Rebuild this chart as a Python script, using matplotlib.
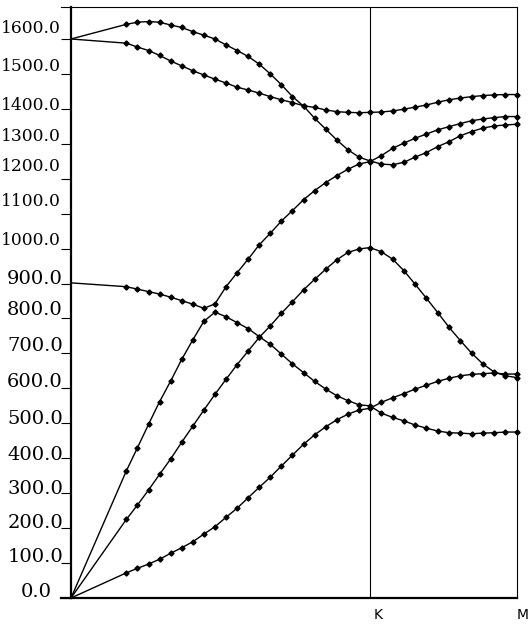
import numpy as np
import matplotlib
matplotlib.use("Agg")
import matplotlib.pyplot as plt
from matplotlib import transforms

# ---- k-path sampling (sample indices along each segment) ----
gk_steps = [0, 5, 6, 7, 8, 9, 10, 11, 12, 13, 14, 15, 16, 17, 18, 19, 20,
            21, 22, 23, 24, 25, 26, 27]
gk_div = 27          # samples per unit length on Gamma-K
km_steps = [1, 2, 3, 4, 5, 6, 7, 8, 9, 10, 11, 12, 13]
km_div = 26.5        # samples per unit length on K-M
K_pos, M_pos = 1.0, 1.4916

# ---- branch frequencies (cm^-1): Gamma..K, then K..M ----
A_gk = [1600, 1642, 1648, 1650, 1648, 1640, 1633, 1621, 1611, 1600, 1583, 1567,
        1550, 1528, 1500, 1469, 1435, 1408, 1373, 1342, 1311, 1283, 1262, 1251]
A_km = [1242, 1240, 1247, 1262, 1275, 1292, 1306, 1323, 1335, 1345, 1351, 1354, 1356]

B_gk = [1600, 1588, 1577, 1567, 1553, 1537, 1523, 1509, 1497, 1485, 1474, 1462,
        1454, 1445, 1435, 1426, 1418, 1409, 1404, 1397, 1392, 1390, 1389, 1390]
B_km = [1391, 1394, 1399, 1405, 1411, 1419, 1426, 1431, 1435, 1438, 1440, 1441, 1441]

C_gk = [902, 891, 884, 877, 870, 861, 851, 841, 829, 842, 891, 931,
        970, 1011, 1044, 1079, 1109, 1140, 1166, 1189, 1209, 1227, 1242, 1249]
C_km = [1266, 1287, 1302, 1316, 1328, 1340, 1349, 1358, 1366, 1371, 1375, 1378, 1378]

D_gk = [0, 364, 430, 497, 562, 621, 683, 739, 792, 818, 805, 788,
        771, 748, 726, 698, 670, 645, 620, 598, 579, 565, 553, 550]
D_km = [529, 517, 507, 495, 486, 478, 473, 472, 470, 472, 473, 475, 475]

E_gk = [0, 225, 266, 309, 354, 398, 446, 492, 538, 583, 626, 668,
        707, 746, 779, 815, 848, 882, 912, 941, 968, 989, 999, 1003]
E_km = [991, 970, 937, 898, 858, 817, 775, 737, 701, 670, 647, 636, 631]

F_gk = [0, 72, 85, 97, 111, 128, 144, 161, 183, 204, 231, 257,
        287, 317, 346, 378, 409, 440, 467, 490, 510, 526, 538, 543]
F_km = [560, 573, 585, 598, 609, 620, 629, 636, 640, 642, 644, 641, 641]

branches = [(A_gk, A_km), (B_gk, B_km), (C_gk, C_km),
            (D_gk, D_km), (E_gk, E_km), (F_gk, F_km)]

ytick_values = [0, 100, 200, 300, 400, 500, 600, 700, 800, 900, 1000,
                1100, 1200, 1300, 1400, 1500, 1600]
ytick_labels = ["0.0", "100.0", "200.0", "300.0", "400.0", "500.0", "600.0",
                "700.0", "800.0", "900.0", "1000.0", "1100.0", "1200.0",
                "1300.0", "1400.0", "1500.0", "1600.0"]
sym_labels = ["K", "M"]
sym_positions = [K_pos, M_pos]

# label placement tweaks (pixels) and sizes (pt)
label_dy = [6, 6, 5, 4, 3, 4.5, 6.5, 7, 8.5, 4.5, 8.5, 12, 12, 7, 3, 7.5, 10]
label_right = [52, 63, 63, 63, 63, 63, 63, 63, 63, 63, 61, 61, 61, 61, 61, 61, 61]
label_size = [14] * 10 + [12.3] * 7

# ---- figure ----
W, H, DPI = 528, 624, 100
fig = plt.figure(figsize=(W / DPI, H / DPI), dpi=DPI)
ax_left, ax_right, ax_bottom, ax_top = 71, 517, 598, 6.5
ax = fig.add_axes([ax_left / W, (H - ax_bottom) / H,
                   (ax_right - ax_left) / W, (ax_bottom - ax_top) / H])

x_gk = np.array(gk_steps) / gk_div
x_km = K_pos + np.array(km_steps) / km_div
x_all = np.concatenate([x_gk, x_km])

for gk, km in branches:
    y = np.concatenate([gk, km])
    ax.plot(x_all, y, color="black", lw=1.0, marker="D", markersize=2.6,
            markevery=list(range(1, len(y))), solid_joinstyle="round",
            clip_on=False)

ax.set_xlim(0, M_pos)
ax.set_ylim(0, 1693)

# spines
ax.spines["top"].set_visible(False)
ax.spines["left"].set_linewidth(1.6)
ax.spines["bottom"].set_linewidth(1.6)
ax.spines["right"].set_linewidth(0.8)
ax.spines["right"].set_bounds(0, 1688)

# top line extended to the left like a tick
ext = 10 / (ax_right - ax_left)
ax.plot([-ext, 1], [1, 1], transform=ax.transAxes, color="black", lw=0.8,
        clip_on=False)
ax.plot([-ext, 0], [0, 0], transform=ax.transAxes, color="black", lw=1.6,
        clip_on=False)

# K line
ax.plot([K_pos, K_pos], [0, 1688], color="black", lw=0.8)

ax.set_yticks(ytick_values)
ax.tick_params(axis="y", direction="out", length=7.2, width=0.8,
               labelleft=False)
ax.set_xticks([])

# y labels
for v, lab, dy, rx, fs in zip(ytick_values, ytick_labels, label_dy,
                              label_right, label_size):
    tr = transforms.offset_copy(
        transforms.blended_transform_factory(ax.transAxes, ax.transData),
        fig=fig, x=(rx - ax_left) * 72 / DPI, y=dy * 72 / DPI, units="points")
    ax.text(0, v, lab, transform=tr, ha="right", va="center",
            family="DejaVu Serif", fontsize=fs, color="black")

# symmetry-point labels
label_dx = [4, 0]
for p, lab, dx in zip(sym_positions, sym_labels, label_dx):
    tr = transforms.offset_copy(
        transforms.blended_transform_factory(ax.transData, ax.transAxes),
        fig=fig, x=dx * 72 / DPI, y=-17 * 72 / DPI, units="points")
    ax.text(p, 0, lab, transform=tr, ha="left", va="center",
            family="DejaVu Sans", fontsize=10, color="black")

fig.savefig("out.png", dpi=DPI)
